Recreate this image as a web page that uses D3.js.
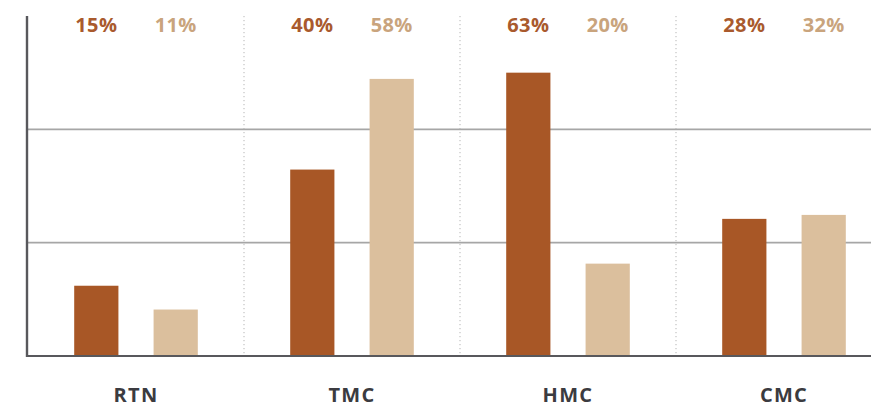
<!DOCTYPE html>
<html>
<head>
<meta charset="utf-8">
<script src="https://cdn.jsdelivr.net/npm/d3@7"></script>
<style>
  html, body { margin: 0; padding: 0; background: #fff; }
  svg { display: block; }
</style>
</head>
<body>
<div id="holder"></div>
<script>
// chart data
const categories = ["RTN", "TMC", "HMC", "CMC"];
const series = ["a", "b"];
// bar heights (scale units)
const barsA = [12.4, 32.9, 50.0, 24.2];
const barsB = [8.2, 48.9, 16.3, 24.9];
// the labels printed above each group
const labelsA = ["15%", "40%", "63%", "28%"];
const labelsB = ["11%", "58%", "20%", "32%"];
const gridTicks = [20, 40];

const w = 871;
const h = 407;
const padLeft = 27;
const padTop = 16;
const baseY = 356;

const barColors = ["#a85726", "#dbbf9d"];
const textColors = ["#a95a2d", "#c9a47d"];

let svg = d3.select("#holder")
    .append("svg")
    .attr("width", w)
    .attr("height", h);

let xScale = d3.scaleBand()
    .domain(categories)
    .range([padLeft + 1, padLeft + 1 + 216 * categories.length]);

let xInner = d3.scaleBand()
    .domain(series)
    .range([0, xScale.bandwidth()])
    .paddingInner(0.443)
    .paddingOuter(0.582);

let yScale = d3.scaleLinear()
    .domain([0, 60])
    .range([baseY, padTop]);

// gridlines
svg.append("g")
    .selectAll("line")
    .data(gridTicks)
    .enter()
    .append("line")
    .attr("x1", padLeft)
    .attr("x2", w)
    .attr("y1", d => yScale(d))
    .attr("y2", d => yScale(d))
    .attr("stroke", "#a6a6a6")
    .attr("stroke-width", 1.6);

// dotted separators between groups
svg.append("g")
    .selectAll("line")
    .data(categories.slice(1))
    .enter()
    .append("line")
    .attr("x1", d => xScale(d))
    .attr("x2", d => xScale(d))
    .attr("y1", padTop)
    .attr("y2", baseY)
    .attr("stroke", "#b5b5b5")
    .attr("stroke-width", 1)
    .attr("stroke-dasharray", "1.2,2.8");

// bars
const seriesData = [barsA, barsB];
seriesData.forEach((vals, si) => {
    svg.append("g")
        .selectAll("rect")
        .data(vals)
        .enter()
        .append("rect")
        .attr("x", (d, i) => xScale(categories[i]) + xInner(series[si]))
        .attr("y", d => yScale(d))
        .attr("width", xInner.bandwidth())
        .attr("height", d => yScale(0) - yScale(d) + 1)
        .attr("fill", barColors[si]);
});

// percent labels on top
[labelsA, labelsB].forEach((labs, si) => {
    svg.append("g")
        .selectAll("text")
        .data(labs)
        .enter()
        .append("text")
        .attr("x", (d, i) => xScale(categories[i]) + xInner(series[si]) + xInner.bandwidth() / 2)
        .attr("y", 32)
        .attr("text-anchor", "middle")
        .attr("font-family", "'Open Sans', sans-serif")
        .attr("font-weight", "bold")
        .attr("font-size", "20px")
        .attr("letter-spacing", "0.4px")
        .attr("fill", textColors[si])
        .text(d => d);
});

// baseline
svg.append("line")
    .attr("x1", padLeft)
    .attr("x2", w)
    .attr("y1", baseY)
    .attr("y2", baseY)
    .attr("stroke", "#58585c")
    .attr("stroke-width", 2.2);

// y axis line
svg.append("line")
    .attr("x1", padLeft)
    .attr("x2", padLeft)
    .attr("y1", padTop)
    .attr("y2", baseY + 1.1)
    .attr("stroke", "#58585c")
    .attr("stroke-width", 2.4);

// category labels
const xAxis = d3.axisBottom(xScale).tickSize(0).tickPadding(0);
let gx = svg.append("g")
    .attr("transform", "translate(0," + 402 + ")")
    .call(xAxis);
gx.select(".domain").remove();
gx.selectAll("text")
    .attr("dy", 0)
    .attr("font-family", "'Open Sans', sans-serif")
    .attr("font-weight", "bold")
    .attr("font-size", "20px")
    .attr("letter-spacing", "1.3px")
    .attr("fill", "#3b3b40");
</script>
</body>
</html>
